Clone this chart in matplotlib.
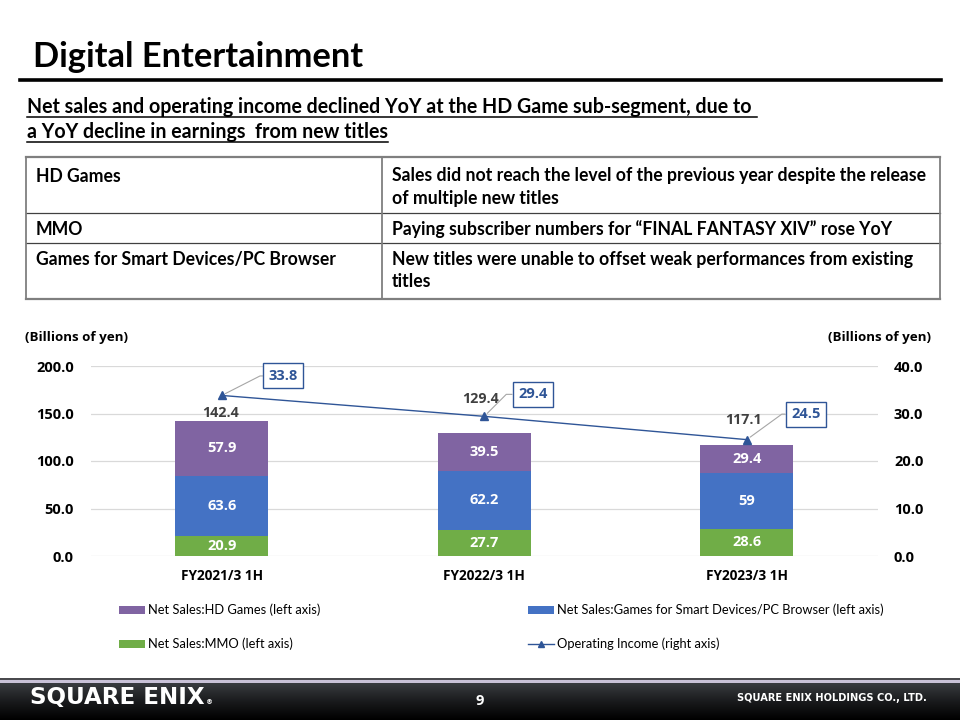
import numpy as np
import matplotlib
matplotlib.use('Agg')
import matplotlib.pyplot as plt
from matplotlib.patches import Patch, Rectangle
from matplotlib.lines import Line2D
from matplotlib.ticker import FixedLocator, FuncFormatter
from matplotlib.colors import LinearSegmentedColormap

# ---------------- data ----------------
categories = ['FY2021/3 1H', 'FY2022/3 1H', 'FY2023/3 1H']
sales_mmo = [20.9, 27.7, 28.6]
sales_smart = [63.6, 62.2, 59.0]
sales_hd = [57.9, 39.5, 29.4]
sales_total = [142.4, 129.4, 117.1]
operating_income = [33.8, 29.4, 24.5]
left_ticks = [0, 50, 100, 150, 200]
right_ticks = [0, 10, 20, 30, 40]
legend_labels = ['Net Sales:HD Games (left axis)',
                 'Net Sales:Games for Smart Devices/PC Browser (left axis)',
                 'Net Sales:MMO (left axis)',
                 'Operating Income (right axis)']
table_left = ['HD Games', 'MMO', 'Games for Smart Devices/PC Browser']
table_right = [['Sales did not reach the level of the previous year despite the release',
                'of multiple new titles'],
               ['Paying subscriber numbers for \u201cFINAL FANTASY XIV\u201d rose YoY'],
               ['New titles were unable to offset weak performances from existing',
                'titles']]
title = 'Digital Entertainment'
subtitle = ['Net sales and operating income declined YoY at the HD Game sub-segment, due to',
            'a YoY decline in earnings  from new titles']

# ---------------- style ----------------
C_HD = '#8064A2'
C_SMART = '#4472C4'
C_MMO = '#70AD47'
C_LINE = '#2F5597'
SLIDE_FONT = ['Lato', 'DejaVu Sans']
CHART_FONT = ['Open Sans', 'DejaVu Sans']

plt.rcParams['font.family'] = CHART_FONT
plt.rcParams['font.weight'] = 'bold'

W, H = 960, 720
fig = plt.figure(figsize=(W / 100, H / 100), dpi=100)
fig.patch.set_facecolor('white')
renderer = fig.canvas.get_renderer()


def fx(x):
    return x / W


def fy(y):
    return 1 - y / H


def fit(t, target):
    w = t.get_window_extent(renderer).width
    t.set_fontsize(t.get_fontsize() * target / w)
    return t.get_fontsize()


# ---------------- title & subtitle ----------------
t = fig.text(fx(33), fy(67), title, family=SLIDE_FONT, weight='bold',
             fontsize=20, va='baseline', ha='left', color='black')
fit(t, 330)
fig.add_artist(Line2D([fx(20), fx(941)], [fy(80), fy(80)], color='black', lw=2.6))

s1 = fig.text(fx(27), fy(113), subtitle[0], family=SLIDE_FONT, weight='bold',
              fontsize=13, va='baseline', ha='left', color='black')
fs_sub = fit(s1, 725)
s2 = fig.text(fx(27), fy(138), subtitle[1], family=SLIDE_FONT, weight='bold',
              fontsize=fs_sub, va='baseline', ha='left', color='black')
for txt, uy, extra in [(s1, 116.5, 5), (s2, 141.5, 0)]:
    bb = txt.get_window_extent(renderer)
    fig.add_artist(Line2D([fx(bb.x0), fx(bb.x1 + extra)], [fy(uy), fy(uy)],
                          color='black', lw=1.1))

# ---------------- table ----------------
tl, tr, tsplit = 26, 940, 382
row_lines = [157, 213, 243, 299]
for i, yy in enumerate(row_lines):
    outer = i in (0, len(row_lines) - 1)
    fig.add_artist(Line2D([fx(tl), fx(tr)], [fy(yy), fy(yy)],
                          color='#7F7F7F' if outer else '#404040',
                          lw=1.6 if outer else 0.9))
for xx in (tl, tsplit, tr):
    fig.add_artist(Line2D([fx(xx), fx(xx)], [fy(157), fy(299)], color='#7F7F7F', lw=1.3))

probe = fig.text(0, 0, table_right[0][0], family=SLIDE_FONT, weight='bold', fontsize=11)
fs_tab = fit(probe, 530)
probe.remove()
baselines = [[181.5, 204], [235], [264.5, 287]]
for lab, lines, bls in zip(table_left, table_right, baselines):
    fig.text(fx(36), fy(bls[0]), lab, family=SLIDE_FONT, weight='bold',
             fontsize=fs_tab, va='baseline', ha='left', color='black')
    for ln, bl in zip(lines, bls):
        fig.text(fx(392), fy(bl), ln, family=SLIDE_FONT, weight='bold',
                 fontsize=fs_tab, va='baseline', ha='left', color='black')

# ---------------- chart ----------------
ax = fig.add_axes([fx(90.5), fy(556), (878 - 90.5) / W, 190 / H])
x = np.arange(len(categories))
bw = 0.354
mmo = np.array(sales_mmo)
smart = np.array(sales_smart)
hd = np.array(sales_hd)
b_mmo = ax.bar(x, mmo, bw, color=C_MMO, zorder=2)
b_smart = ax.bar(x, smart, bw, bottom=mmo, color=C_SMART, zorder=2)
b_hd = ax.bar(x, hd, bw, bottom=mmo + smart, color=C_HD, zorder=2)
for bars, vals in [(b_mmo, mmo), (b_smart, smart), (b_hd, hd)]:
    ax.bar_label(bars, labels=[f'{v:g}' for v in vals], label_type='center',
                 color='white', fontsize=10.5, fontweight='bold')

total_offsets = [(-1, 8), (-4, 34), (-3, 25)]
for xi, tv, off in zip(x, sales_total, total_offsets):
    ax.annotate(f'{tv:.1f}', xy=(xi, tv), xytext=off, textcoords='offset pixels',
                ha='center', va='center', fontsize=10.3, color='#404040', fontweight='bold')

ax.set_xlim(-0.5, 2.5)
ax.set_ylim(0, 200)
ax.yaxis.set_major_locator(FixedLocator(left_ticks))
ax.yaxis.set_major_formatter(FuncFormatter(lambda v, p: f'{v:.1f}'))
ax.set_xticks(x)
ax.set_xticklabels(categories)
ax.grid(axis='y', color='#D9D9D9', lw=0.9, zorder=0)
ax.set_axisbelow(True)
for sp in ax.spines.values():
    sp.set_visible(False)
ax.tick_params(axis='y', length=0, pad=12, labelsize=10.5, labelcolor='black')
ax.tick_params(axis='x', length=0, pad=9, labelsize=9.8, labelcolor='black')

ax2 = ax.twinx()
ax2.set_ylim(0, 40)
ax2.yaxis.set_major_locator(FixedLocator(right_ticks))
ax2.yaxis.set_major_formatter(FuncFormatter(lambda v, p: f'{v:.1f}'))
for sp in ax2.spines.values():
    sp.set_visible(False)
ax2.tick_params(axis='y', length=0, pad=11.5, labelsize=10.5, labelcolor='black')
ax2.plot(x, operating_income, color=C_LINE, lw=1.0, marker='^', ms=5.5, zorder=3)

box_offsets = [(61.5, 19.5), (48.5, 22), (59, 25.5)]
leader_angles = [27, 45, 36]
for xi, v, off, ang in zip(x, operating_income, box_offsets, leader_angles):
    ax2.annotate(f'{v:.1f}', xy=(xi, v), xytext=off, textcoords='offset pixels',
                 ha='center', va='center', fontsize=10.5, color=C_LINE, fontweight='bold',
                 bbox=dict(boxstyle='square,pad=0.38', fc='white', ec=C_LINE, lw=1.0),
                 arrowprops=dict(arrowstyle='-', color='#A6A6A6', lw=0.8,
                                 relpos=(0, 0.5), shrinkA=0, shrinkB=3,
                                 connectionstyle=f'angle,angleA=0,angleB={ang},rad=0'))

# axis unit labels
u1 = fig.text(fx(25), fy(338), '(Billions of yen)', ha='left', va='center',
              fontsize=9.5, fontweight='bold', color='black')
fs_u = fit(u1, 104)
fig.text(fx(931), fy(338), '(Billions of yen)', ha='right', va='center',
         fontsize=fs_u, fontweight='bold', color='black')

# ---------------- legend ----------------
probe = fig.text(0, 0, legend_labels[1], family=SLIDE_FONT, weight='normal', fontsize=9.5)
fs_leg = fit(probe, 330)
probe.remove()
fs_px = fs_leg * 100 / 72
handles = [Patch(facecolor=C_HD), Patch(facecolor=C_SMART), Patch(facecolor=C_MMO),
           Line2D([], [], color=C_LINE, lw=1.0, marker='^', ms=4.5)]
leg_pos = [(119, 610), (528, 610), (119, 644), (528, 644)]
for h, lab, (lx, ly) in zip(handles, legend_labels, leg_pos):
    fig.legend([h], [lab], loc='center left', bbox_to_anchor=(fx(lx), fy(ly)),
               frameon=False, borderpad=0, borderaxespad=0,
               handlelength=26 / fs_px, handleheight=0.55,
               handletextpad=3 / fs_px,
               prop=dict(family=SLIDE_FONT, weight='normal', size=fs_leg))

# ---------------- footer ----------------
fax = fig.add_axes([0, 0, 1, 1], zorder=-1)
fax.set_xlim(0, W)
fax.set_ylim(H, 0)
fax.axis('off')
grad = np.linspace(0, 1, 64).reshape(-1, 1)
cmap = LinearSegmentedColormap.from_list('foot', ['#3a3d42', '#1a1b1d', '#000000'])
fax.imshow(grad, cmap=cmap, extent=(0, W, 720, 682.5), aspect='auto', zorder=0)
fax.add_patch(Rectangle((0, 677.5), W, 2.5, color='#4a4a4e', lw=0, zorder=1))
fax.add_patch(Rectangle((0, 680), W, 2.5, color='#c9c2d8', lw=0, zorder=1))

logo = fig.text(fx(30), fy(704), 'SQUARE ENIX', family=['DejaVu Sans'], weight='bold',
                color='white', fontsize=15, ha='left', va='baseline')
fit(logo, 174)
lb = logo.get_window_extent(renderer)
fig.text(fx(lb.x1 + 1), fy(704), '\u00ae', family=['DejaVu Sans'], color='white',
         fontsize=5, ha='left', va='baseline')
fig.text(fx(480), fy(701), '9', family=CHART_FONT, weight='bold', color='white',
         fontsize=10.5, ha='center', va='center')
hold = fig.text(fx(927), fy(698), 'SQUARE ENIX HOLDINGS CO., LTD.', family=['DejaVu Sans'],
                weight='bold', color='white', fontsize=7, ha='right', va='center')
fit(hold, 191)

fig.savefig('out.png', dpi=100)
